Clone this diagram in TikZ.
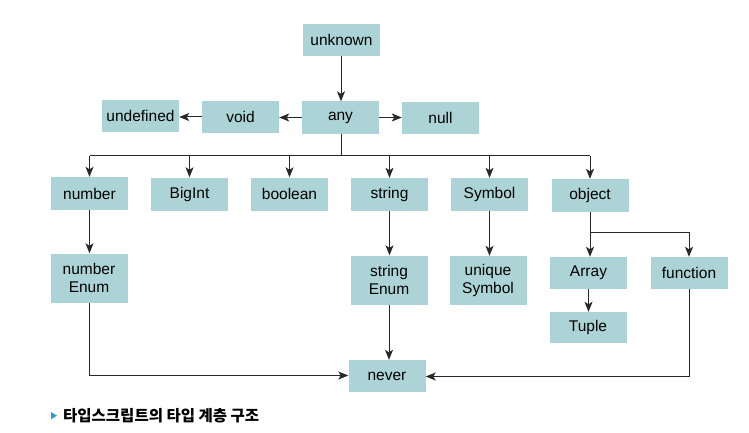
\documentclass[tikz,border=0pt]{standalone}
\usepackage{fontspec}
\setmainfont{Liberation Sans}
\newfontfamily\krfont{Noto Sans CJK KR}
\usetikzlibrary{arrows.meta}
\definecolor{boxfill}{RGB}{172,212,214}
\definecolor{capblue}{RGB}{42,160,208}
\definecolor{linec}{RGB}{40,40,40}
\tikzset{
  tbox/.style={fill=boxfill, draw=none, minimum width=77pt, minimum height=32pt, inner sep=0pt, font=\fontsize{15.5}{17.5}\selectfont, align=center},
  tbig/.style={tbox, minimum height=49pt},
  conn/.style={draw=linec, line width=1pt, -{Stealth[length=10pt,width=8pt,inset=2.5pt]}},
  plain/.style={draw=linec, line width=1pt}
}
\begin{document}
\begin{tikzpicture}[x=1pt,y=-1pt]
\useasboundingbox (0,0) rectangle (749,433);
\node[tbox] (unknown) at (341.5,40) {unknown};
\node[tbox] (any) at (340.5,117.5) {any};
\node[tbox] (void) at (240.5,117) {void};
\node[tbox] (undefined) at (140.5,116) {undefined};
\node[tbox] (null) at (440.5,118) {null};
\node[tbox,minimum height=33pt] (number) at (89.5,193.5) {number};
\node[tbox,minimum height=33pt] (bigint) at (189.5,194) {BigInt};
\node[tbox,minimum height=33pt] (boolean) at (289.5,194) {boolean};
\node[tbox,minimum height=33pt] (string) at (389.5,194.5) {string};
\node[tbox,minimum height=33pt] (symbol) at (489.5,194.5) {Symbol};
\node[tbox,minimum height=33pt] (object) at (590,195.5) {object};
\node[tbig] (numenum) at (89,278) {number\\Enum};
\node[tbig] (strenum) at (389,280) {string\\Enum};
\node[tbig] (usym) at (488,280.5) {unique\\Symbol};
\node[tbox] (array) at (588.5,273) {Array};
\node[tbox] (function) at (689,273) {function};
\node[tbox,minimum height=31pt] (tuple) at (588,327.5) {Tuple};
\node[tbox] (never) at (387,376) {never};
\coordinate (bus) at (341,155.5);
\coordinate (obus) at (590,232);
\coordinate (nbot) at (89,375.5);
\coordinate (fbot) at (689,376.5);
% connectors
\draw[conn] (bus |- unknown.south) -- (bus |- any.north);
\draw[conn] (any.west) -- (void.east |- any.west);
\draw[conn] (void.west) -- (undefined.east |- void.west);
\draw[conn] (any.east) -- (null.west |- any.east);
\draw[plain] (bus |- any.south) -- (bus);
\draw[plain] (number.north |- bus) -- (object.north |- bus);
\foreach \n in {number,bigint,boolean,string,symbol,object}
  \draw[conn] (\n.north |- bus) -- (\n.north);
\draw[conn] (number) -- (number.south |- numenum.north);
\draw[conn] (string) -- (string.south |- strenum.north);
\draw[conn] (symbol) -- (symbol.south |- usym.north);
\draw[plain] (object.south) -- (obus);
\draw[plain] (obus) -- (function.north |- obus);
\draw[conn] (obus) -- (obus |- array.north);
\draw[conn] (function.north |- obus) -- (function.north);
\draw[conn] (array) -- (array.south |- tuple.north);
\draw[conn] (numenum.south) -- (nbot) -- (never.west |- nbot);
\draw[conn] (strenum) -- (strenum.south |- never.north);
\draw[conn] (function.south) -- (fbot) -- (never.east |- fbot);
% caption
\fill[capblue] (51,412) -- (57,415.7) -- (51,419.4) -- cycle;
\node[inner sep=0pt, anchor=west, font=\krfont\bfseries\fontsize{15.5}{15.5}\selectfont] (cap) at (63,415.5) {타입스크립트의 타입 계층 구조};
\end{tikzpicture}
\end{document}
